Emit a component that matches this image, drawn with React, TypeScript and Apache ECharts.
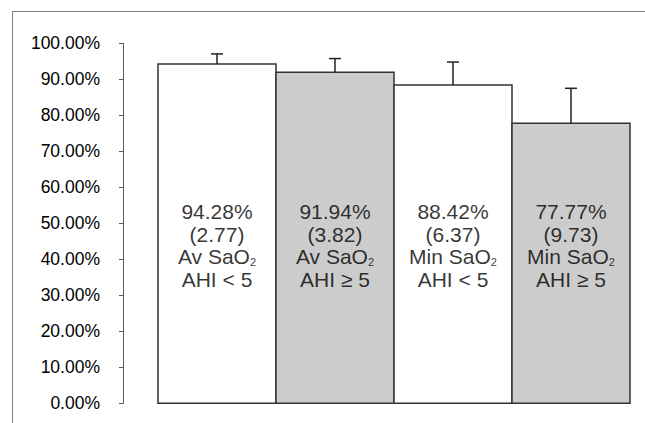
import React, { useEffect, useRef } from "react";
import * as echarts from "echarts";

const categories = ["Av SaO2 AHI<5", "Av SaO2 AHI>=5", "Min SaO2 AHI<5", "Min SaO2 AHI>=5"];
const means = [94.28, 91.94, 88.42, 77.77];
const sds = [2.77, 3.82, 6.37, 9.73];
const measureNames = ["Av SaO", "Av SaO", "Min SaO", "Min SaO"];
const groupNames = ["AHI < 5", "AHI \u2265 5", "AHI < 5", "AHI \u2265 5"];
const barColors = ["#ffffff", "#cccccc", "#ffffff", "#cccccc"];
const labelLevel = [43.8, 43.8, 43.8, 43.8];
const yTicks = [0, 10, 20, 30, 40, 50, 60, 70, 80, 90, 100];

const FONT = "'Liberation Sans', Arial, sans-serif";

export default function App() {
  const ref = useRef<HTMLDivElement>(null);
  useEffect(() => {
    if (!ref.current) return;
    const chart = echarts.init(ref.current, undefined, { renderer: "svg" });
    chart.setOption({
      animation: false,
      backgroundColor: "#ffffff",
      graphic: [
        {
          type: "rect",
          shape: { x: 12.5, y: 11.5, width: 700, height: 500 },
          style: { fill: "none", stroke: "#808080", lineWidth: 1 },
          silent: true,
        },
      ],
      grid: { left: 158, right: 15, top: 43.3, bottom: 19.7, containLabel: false },
      xAxis: {
        type: "category",
        data: categories,
        axisLine: { show: false },
        axisTick: { show: false },
        axisLabel: { show: false },
        splitLine: { show: false },
      },
      yAxis: {
        type: "value",
        min: yTicks[0],
        max: yTicks[yTicks.length - 1],
        interval: 10,
        offset: 35,
        axisLine: { show: true, lineStyle: { color: "#595959", width: 1 } },
        axisTick: { show: true, inside: false, length: 4, lineStyle: { color: "#595959" } },
        splitLine: { show: false },
        axisLabel: {
          margin: 23,
          color: "#000",
          fontSize: 17.5,
          fontFamily: FONT,
          formatter: (v: number) => v.toFixed(2) + "%",
        },
      },
      series: [
        {
          type: "custom",
          z: 2,
          data: means.map((m, i) => [i, m]),
          renderItem: (params: any, api: any) => {
            const i = api.value(0);
            const top = api.coord([i, api.value(1)]);
            const base = api.coord([i, 0]);
            const w = api.size([1, 0])[0];
            return {
              type: "rect",
              shape: { x: top[0] - w / 2, y: top[1], width: w, height: base[1] - top[1] },
              style: { fill: barColors[params.dataIndex], stroke: "#333", lineWidth: 1.5 },
            };
          },
        },
        {
          type: "custom",
          z: 3,
          data: means.map((m, i) => [i, m, m + sds[i]]),
          renderItem: (params: any, api: any) => {
            const x = api.value(0);
            const lo = api.coord([x, api.value(1)]);
            const hi = api.coord([x, api.value(2)]);
            const half = 6;
            return {
              type: "group",
              children: [
                {
                  type: "line",
                  shape: { x1: lo[0], y1: lo[1], x2: hi[0], y2: hi[1] },
                  style: { stroke: "#222", lineWidth: 1.5 },
                },
                {
                  type: "line",
                  shape: { x1: hi[0] - half, y1: hi[1], x2: hi[0] + half, y2: hi[1] },
                  style: { stroke: "#222", lineWidth: 1.5 },
                },
              ],
            };
          },
        },
        {
          type: "scatter",
          z: 4,
          symbolSize: 0,
          data: labelLevel.map((v, i) => [i, v]),
          label: {
            show: true,
            position: "inside",
            align: "center",
            verticalAlign: "middle",
            formatter: (p: any) => {
              const i = p.dataIndex;
              return (
                "{a|" + means[i].toFixed(2) + "%}\n" +
                "{a|(" + sds[i].toFixed(2) + ")}\n" +
                "{a|" + measureNames[i] + "}{s|2}\n" +
                "{a|" + groupNames[i] + "}"
              );
            },
            rich: {
              a: { fontSize: 21, lineHeight: 22.7, color: "#000", fontFamily: FONT, align: "center" },
              s: { fontSize: 11, lineHeight: 22.7, color: "#000", fontFamily: FONT, padding: [10, 0, 0, 0] },
            },
          },
        },
      ],
    });
    return () => chart.dispose();
  }, []);
  return (
    <div
      ref={ref}
      style={{ position: "fixed", left: 0, top: 0, width: 645, height: 423 }}
    />
  );
}
